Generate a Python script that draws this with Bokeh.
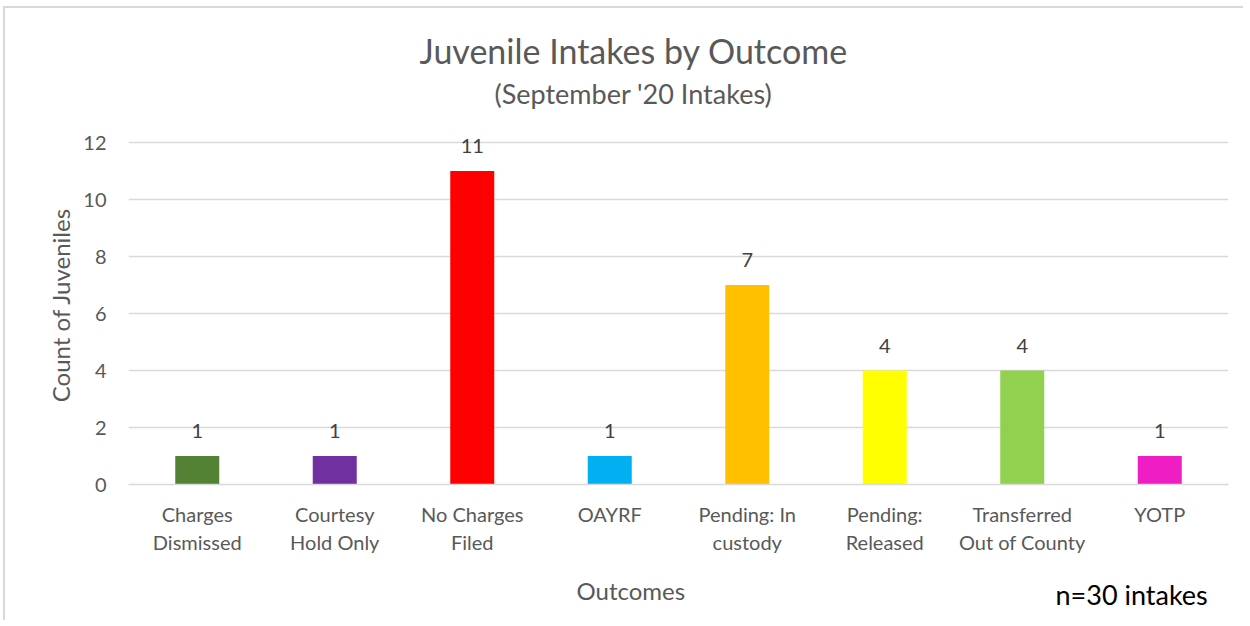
from bokeh.plotting import figure
from bokeh.models import ColumnDataSource, FixedTicker, Title
from bokeh.core.properties import value
from bokeh.embed import file_html
from bokeh.resources import INLINE

categories = ["Charges\nDismissed", "Courtesy\nHold Only", "No Charges\nFiled", "OAYRF",
              "Pending: In\ncustody", "Pending:\nReleased", "Transferred\nOut of County", "YOTP"]
counts = [1, 1, 11, 1, 7, 4, 4, 1]
colors = ["#548235", "#7030A0", "#FF0000", "#00B0F0", "#FFC000", "#FFFF00", "#92D050", "#EE1EC4"]
y_ticks = [0, 2, 4, 6, 8, 10, 12]

FONT = "Lato"
GRAY = "#595959"

src = ColumnDataSource(dict(cat=categories, cnt=counts, col=colors,
                            lbl=[str(c) for c in counts]))

p = figure(x_range=categories, y_range=(0, 12.6), width=1240, height=614,
           output_backend="svg", toolbar_location=None,
           min_border_left=123, min_border_right=17, min_border_top=117, min_border_bottom=138)
p.margin = (6, 0, 0, 3)
p.styles = {"border-top": "2px solid #d9d9d9", "border-left": "2px solid #d9d9d9"}
p.outline_line_color = None

p.vbar(x="cat", top="cnt", width=0.32, fill_color="col", line_color=None, source=src)
p.text(x="cat", y="cnt", text="lbl", source=src, y_offset=-25,
       text_align="center", text_baseline="middle", text_font=value(FONT),
       text_font_size="20px", text_color="#404040")

p.xgrid.grid_line_color = None
p.ygrid.grid_line_color = "#D9D9D9"
p.ygrid.grid_line_width = 1.5

p.yaxis.ticker = FixedTicker(ticks=y_ticks)
p.yaxis.axis_line_color = None
p.yaxis.major_tick_line_color = None
p.yaxis.minor_tick_line_color = None
p.yaxis.major_label_text_font = FONT
p.yaxis.major_label_text_font_size = "20px"
p.yaxis.major_label_text_color = GRAY
p.yaxis.major_label_standoff = 16
p.yaxis.axis_label = "Count of Juveniles"
p.yaxis.axis_label_text_font = FONT
p.yaxis.axis_label_text_font_size = "24px"
p.yaxis.axis_label_text_font_style = "normal"
p.yaxis.axis_label_text_color = GRAY
p.yaxis.axis_label_standoff = 5

p.xaxis.axis_line_color = "#D9D9D9"
p.xaxis.axis_line_width = 1.5
p.xaxis.major_tick_line_color = None
p.xaxis.minor_tick_line_color = None
p.xaxis.major_label_text_font = FONT
p.xaxis.major_label_text_font_size = "20px"
p.xaxis.major_label_text_color = GRAY
p.xaxis.major_label_standoff = 11

p.add_layout(Title(text="(September '20 Intakes)", align="left", offset=366,
                   text_font=FONT, text_font_size="27px", text_color=GRAY,
                   text_font_style="normal", standoff=32), "above")
p.add_layout(Title(text="Juvenile Intakes by Outcome", align="left", offset=291,
                   text_font=FONT, text_font_size="34px", text_color=GRAY,
                   text_font_style="normal", standoff=-24), "above")

p.add_layout(Title(text="Outcomes", align="left", offset=448, vertical_align="bottom",
                   text_font=FONT, text_font_size="24px", text_color=GRAY,
                   text_font_style="normal", standoff=33), "below")
p.add_layout(Title(text="n=30 intakes", align="left", offset=927, vertical_align="top",
                   text_font=FONT, text_font_size="27px", text_color="#000000",
                   text_font_style="normal", standoff=-88), "below")

open("out.html", "w").write(file_html(p, INLINE))
